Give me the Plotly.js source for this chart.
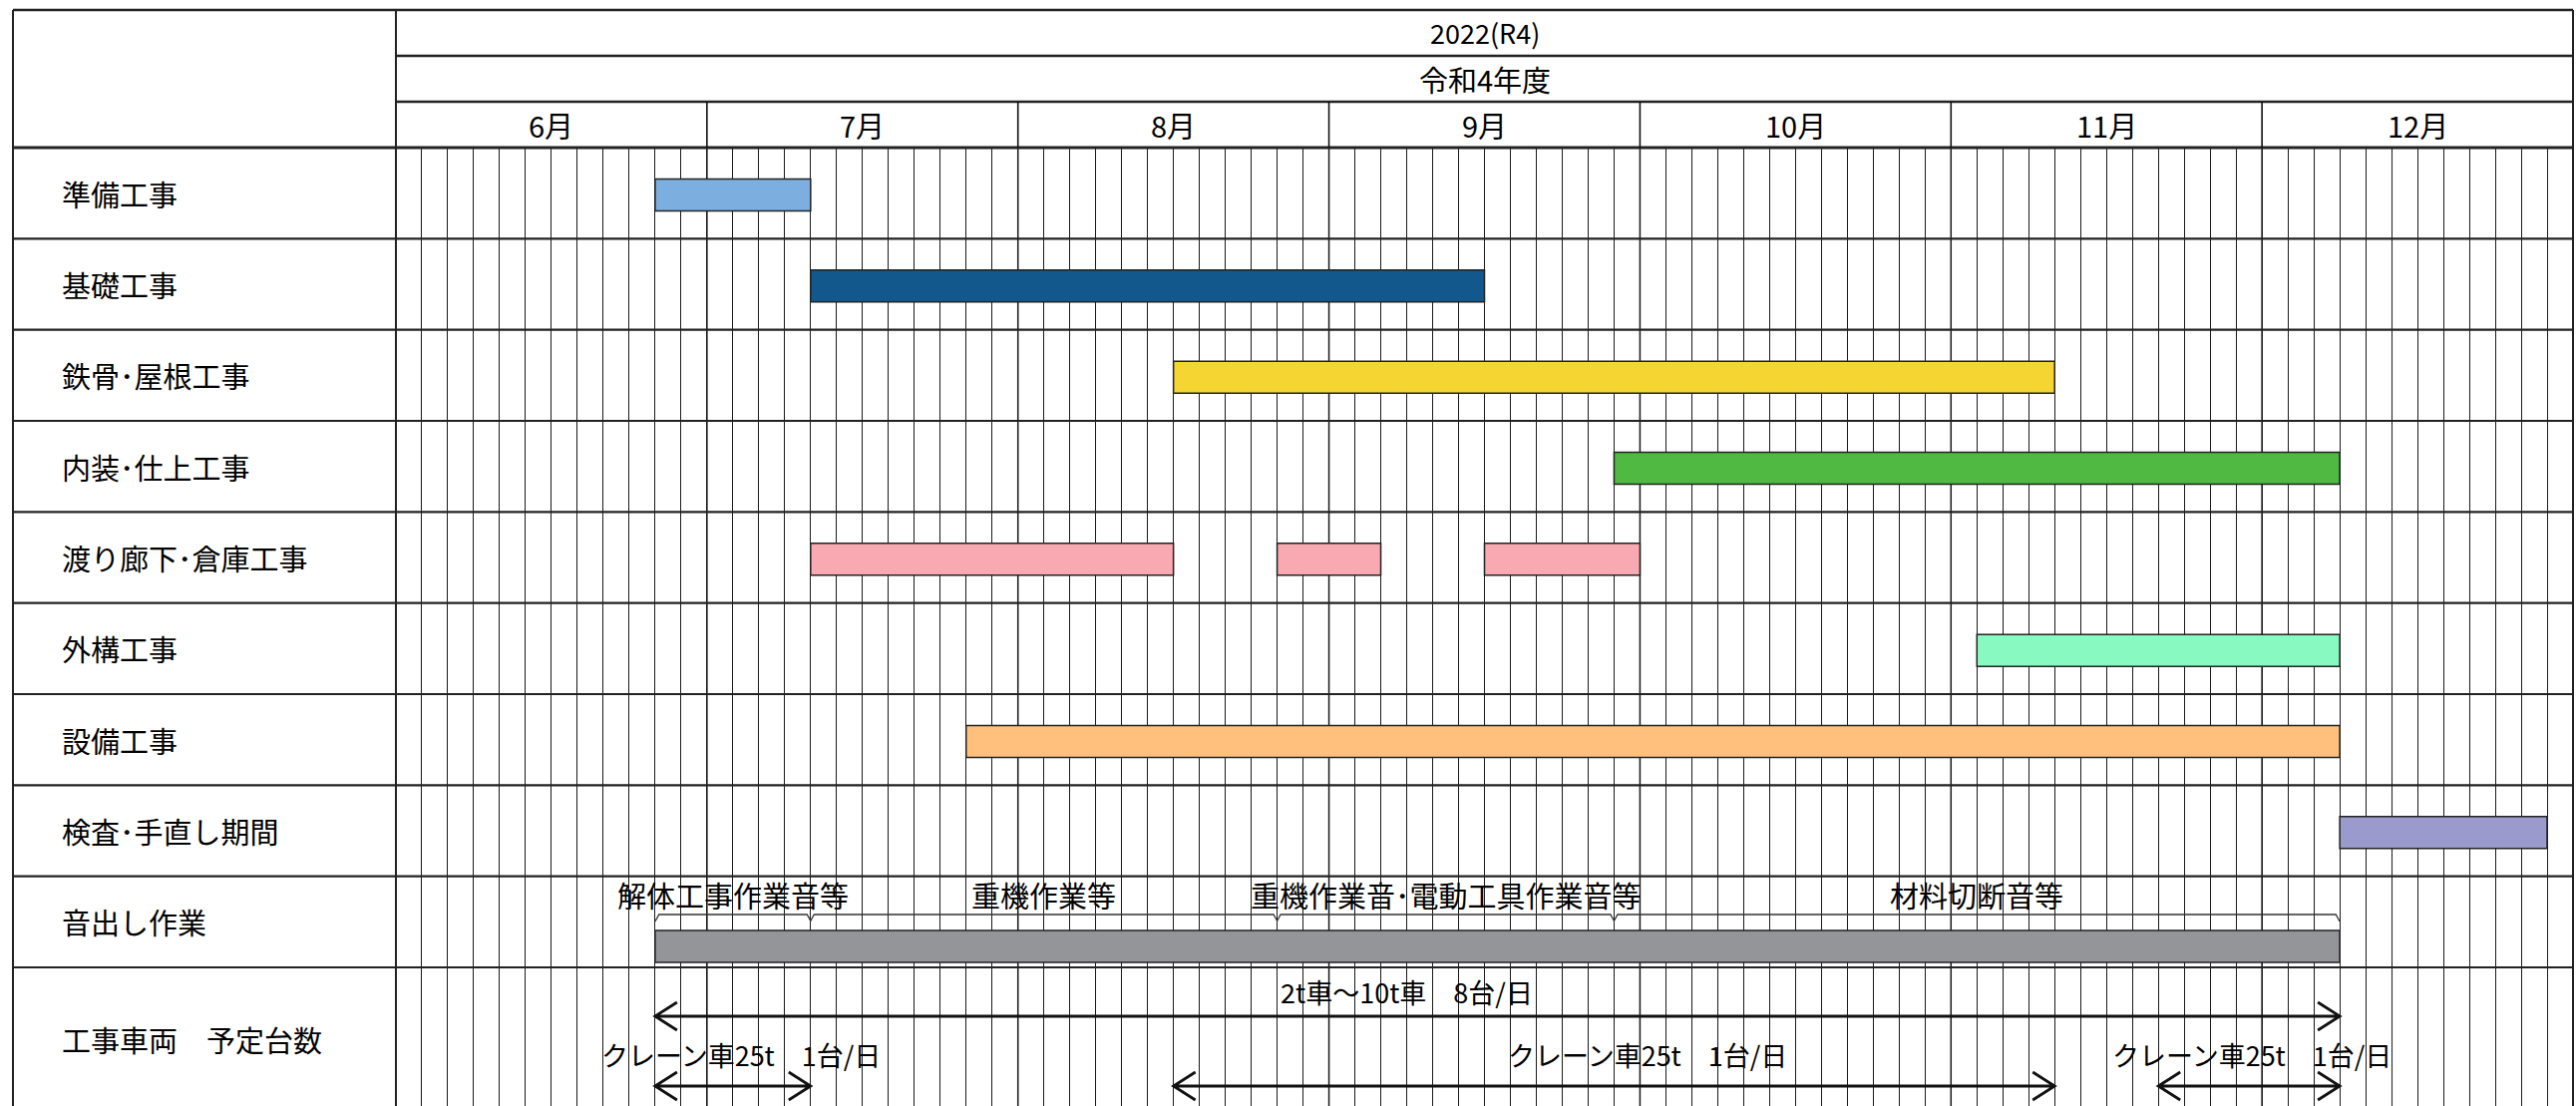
<!DOCTYPE html>
<html>
<head>
<meta charset="utf-8">
<script src="https://cdn.plot.ly/plotly-3.0.1.min.js"></script>
<style>
  html, body { margin: 0; padding: 0; background: #fff; }
  #chart { width: 2583px; height: 1109px; }
</style>
</head>
<body>
<div id="chart"></div>
<script>
// ---------------- DATA ----------------
const yearLabel = '2022(R4)';
const fiscalLabel = '令和4年度';
const months = ['6月', '7月', '8月', '9月', '10月', '11月', '12月'];
const slotsPerMonth = 12;

const tasks = ['準備工事', '基礎工事', '鉄骨･屋根工事', '内装･仕上工事', '渡り廊下･倉庫工事',
               '外構工事', '設備工事', '検査･手直し期間', '音出し作業', '工事車両　予定台数'];

// bars (slot index: 12 slots per month, 0 = start of June)
const barTask  = ['準備工事', '基礎工事', '鉄骨･屋根工事', '内装･仕上工事',
                  '渡り廊下･倉庫工事', '渡り廊下･倉庫工事', '渡り廊下･倉庫工事',
                  '外構工事', '設備工事', '検査･手直し期間', '音出し作業'];
const barStart = [10, 16, 30, 47, 16, 34, 42, 61, 22, 75, 10];
const barEnd   = [16, 42, 64, 75, 30, 38, 48, 75, 75, 83, 75];

// noise work sections
const noiseBreaks = [10, 16, 34, 47, 75];
const noiseLabels = ['解体工事作業音等', '重機作業等', '重機作業音･電動工具作業音等', '材料切断音等'];

// vehicles
const truckStart = [10];
const truckEnd = [75];
const truckLabel = ['2t車～10t車　8台/日'];
const craneStart = [10, 30, 68];
const craneEnd = [16, 64, 75];
const craneLabel = ['クレーン車25t　1台/日', 'クレーン車25t　1台/日', 'クレーン車25t　1台/日'];

// ---------------- STYLE / LAYOUT ----------------
const taskColor = {
  '準備工事': '#7cafe0',
  '基礎工事': '#13588c',
  '鉄骨･屋根工事': '#f5d532',
  '内装･仕上工事': '#4fb941',
  '渡り廊下･倉庫工事': '#f8a9b1',
  '外構工事': '#88f9c0',
  '設備工事': '#ffc07e',
  '検査･手直し期間': '#9a9acc',
  '音出し作業': '#949598'
};

const W = 2583, H = 1109, L = 397, R = 3, T = 148;
const plotW = W - L - R, plotH = H - T;
const rowPx = (970 - 148) / 9;
const xp = px => (px - L) / plotW;
const yp = py => (H - py) / plotH;
const rowAt = py => (py - T) / rowPx - 0.5;
const nSlots = months.length * slotsPerMonth;
const FONT = '"Noto Sans CJK JP", "Noto Sans", sans-serif';
const TXT = { family: FONT, size: 29, color: '#000' };
const TXT27 = { family: FONT, size: 27, color: '#000' };

// bar geometry (rows)
const barW = 32 / rowPx;
const barOffset = barTask.map(t => t === '音出し作業' ? rowAt(933) - 8 : -barW / 2 + 0.02);

const barTrace = {
  type: 'bar',
  orientation: 'h',
  y: barTask.map(t => tasks.indexOf(t)),
  base: barStart,
  x: barEnd.map((e, i) => e - barStart[i]),
  width: barTask.map(() => barW),
  offset: barOffset,
  marker: { color: barTask.map(t => taskColor[t]), line: { color: '#222', width: 1.5 } },
  hoverinfo: 'skip'
};

const shapes = [];
const annotations = [];
const lineC = '#222';

// header horizontal lines
shapes.push({ type: 'line', xref: 'paper', yref: 'paper', x0: xp(13), x1: 1, y0: yp(10), y1: yp(10), line: { color: lineC, width: 2.5 } });
shapes.push({ type: 'line', xref: 'paper', yref: 'paper', x0: 0, x1: 1, y0: yp(56), y1: yp(56), line: { color: lineC, width: 2.5 } });
shapes.push({ type: 'line', xref: 'paper', yref: 'paper', x0: 0, x1: 1, y0: yp(102), y1: yp(102), line: { color: lineC, width: 2.5 } });
shapes.push({ type: 'line', xref: 'paper', yref: 'paper', x0: xp(13), x1: 1, y0: 1, y1: 1, line: { color: lineC, width: 3 } });

// verticals: left edge, label boundary, right edge
[xp(13), 0, 1].forEach(x => shapes.push({ type: 'line', xref: 'paper', yref: 'paper', x0: x, x1: x, y0: yp(10), y1: 0, line: { color: lineC, width: 2 } }));

// month boundaries (header part above, body part below bars)
for (let i = 1; i < months.length; i++) {
  const mx = i * slotsPerMonth;
  shapes.push({ type: 'line', xref: 'x', yref: 'paper', x0: mx, x1: mx, y0: yp(102), y1: 1, line: { color: '#111', width: 1.6 } });
  shapes.push({ type: 'line', xref: 'x', yref: 'paper', layer: 'below', x0: mx, x1: mx, y0: 1, y1: 0, line: { color: '#111', width: 1.5 } });
}

// row separators (between category rows)
for (let i = 0; i < tasks.length - 1; i++) {
  shapes.push({ type: 'line', xref: 'paper', yref: 'y', x0: xp(13), x1: 1, y0: i + 0.5, y1: i + 0.5, line: { color: lineC, width: 2.2 } });
}

// header texts
annotations.push({ xref: 'paper', yref: 'paper', x: 0.5, y: yp(33), text: yearLabel, showarrow: false, xanchor: 'center', yanchor: 'middle', font: TXT27 });
annotations.push({ xref: 'paper', yref: 'paper', x: 0.5, y: yp(79), text: fiscalLabel, showarrow: false, xanchor: 'center', yanchor: 'middle', font: TXT });
months.forEach((m, i) => annotations.push({ xref: 'x', yref: 'paper', x: i * slotsPerMonth + slotsPerMonth / 2, y: yp(125), text: m, showarrow: false, xanchor: 'center', yanchor: 'middle', font: TXT }));

// row labels
tasks.forEach((t, i) => {
  const y = i === tasks.length - 1 ? rowAt(1042) : i;
  annotations.push({ xref: 'paper', yref: 'y', x: xp(60), y: y, text: t, showarrow: false, xanchor: 'left', yanchor: 'middle', font: TXT });
});

// noise bracket
const bY = rowAt(917), nD = 6.5 / rowPx, nW = 3.5 / 25.99, sY = rowAt(924);
let p = `M ${noiseBreaks[0]},${sY} L ${noiseBreaks[0] + 0.15},${bY}`;
for (let k = 1; k < noiseBreaks.length - 1; k++) {
  const n = noiseBreaks[k];
  p += ` L ${n - nW},${bY} L ${n},${bY + nD} L ${n + nW},${bY}`;
}
const nEnd = noiseBreaks[noiseBreaks.length - 1];
p += ` L ${nEnd - 0.15},${bY} L ${nEnd},${sY}`;
shapes.push({ type: 'path', xref: 'x', yref: 'y', path: p, line: { color: '#333', width: 1.3 } });
noiseLabels.forEach((lab, k) => annotations.push({ xref: 'x', yref: 'y', x: (noiseBreaks[k] + noiseBreaks[k + 1]) / 2, y: rowAt(897), text: lab, showarrow: false, xanchor: 'center', yanchor: 'middle', font: TXT }));

// arrows (open chevron heads)
const dx = 22 / 25.99, dy = 14 / rowPx;
function arrow(x0, x1, y) {
  return `M ${x0 + dx},${y - dy} L ${x0},${y} L ${x0 + dx},${y + dy} M ${x0},${y} L ${x1},${y} M ${x1 - dx},${y - dy} L ${x1},${y} L ${x1 - dx},${y + dy}`;
}
const truckLabelShift = [-3.5];
truckStart.forEach((s, i) => {
  shapes.push({ type: 'path', xref: 'x', yref: 'y', path: arrow(s, truckEnd[i], rowAt(1019)), line: { color: '#111', width: 2.8 } });
  annotations.push({ xref: 'x', yref: 'y', x: (s + truckEnd[i]) / 2 + truckLabelShift[i], y: rowAt(994), text: truckLabel[i], showarrow: false, xanchor: 'center', yanchor: 'middle', font: TXT27 });
});
const craneLabelShift = [0.3, 1.3, 0.1];
craneStart.forEach((s, i) => {
  shapes.push({ type: 'path', xref: 'x', yref: 'y', path: arrow(s, craneEnd[i], rowAt(1089)), line: { color: '#111', width: 2.8 } });
  annotations.push({ xref: 'x', yref: 'y', x: (s + craneEnd[i]) / 2 + craneLabelShift[i], y: rowAt(1057), text: craneLabel[i], showarrow: false, xanchor: 'center', yanchor: 'middle', font: TXT27 });
});

const layout = {
  width: W, height: H,
  margin: { l: L, r: R, t: T, b: 0, pad: 0 },
  paper_bgcolor: '#fff', plot_bgcolor: '#fff',
  showlegend: false,
  barmode: 'overlay',
  xaxis: { range: [0, nSlots], tick0: 0, dtick: 1, showgrid: true, gridcolor: '#1a1a1a', gridwidth: 1,
           showticklabels: false, ticks: '', zeroline: false, showline: false, fixedrange: true },
  yaxis: { range: [rowAt(H), -0.5], showgrid: false, zeroline: false, showticklabels: false, ticks: '', showline: false, fixedrange: true },
  shapes: shapes,
  annotations: annotations,
  font: { family: FONT }
};

Plotly.newPlot('chart', [barTrace], layout, { displayModeBar: false, staticPlot: true });
</script>
</body>
</html>
